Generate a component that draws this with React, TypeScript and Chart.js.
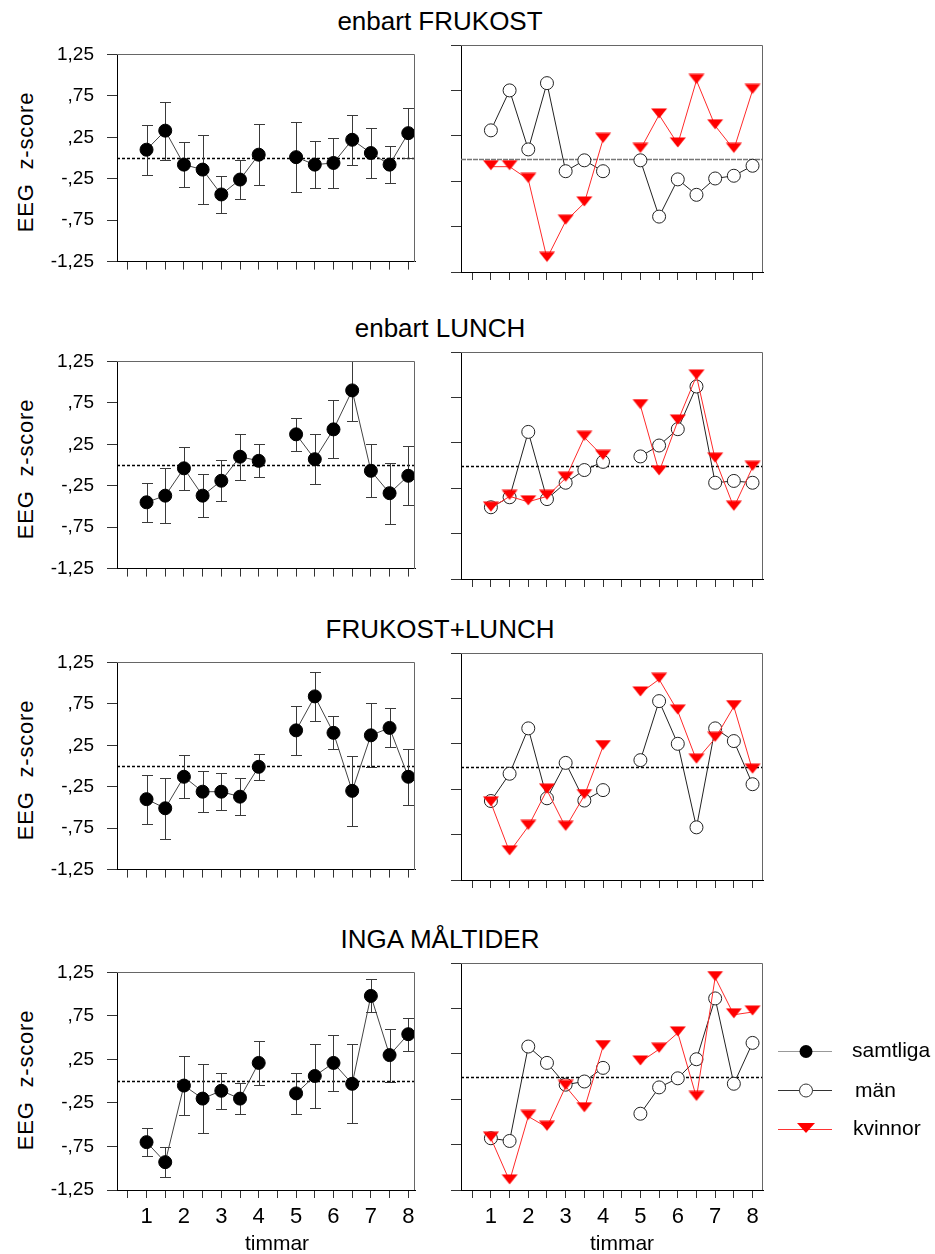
import React, { useEffect, useRef } from "react";
import { Chart, registerables } from "chart.js";

Chart.register(...registerables);

const FONT = "'Liberation Sans', Arial, Helvetica, sans-serif";

// x values (hours); 4.5 has no measurement -> null breaks the line
const hours = [1, 1.5, 2, 2.5, 3, 3.5, 4, 4.5, 5, 5.5, 6, 6.5, 7, 7.5, 8];
const xTickValues = [0.5, 1, 1.5, 2, 2.5, 3, 3.5, 4, 4.5, 5, 5.5, 6, 6.5, 7, 7.5, 8];
const xTickLabels = ["", "1", "", "2", "", "3", "", "4", "", "5", "", "6", "", "7", "", "8"];
const yTickValues = [-1.25, -0.75, -0.25, 0.25, 0.75, 1.25];
const yTickLabels = ["-1,25", "-,75", "-,25", ",25", ",75", "1,25"];

const panelTitles = ["enbart FRUKOST", "enbart LUNCH", "FRUKOST+LUNCH", "INGA MÅLTIDER"];
const yAxisTitle = "EEG  z-score";
const xAxisTitle = "timmar";
const legendLabels = ["samtliga", "män", "kvinnor"];

// enbart FRUKOST
const frukostAll = [0.10, 0.33, -0.08, -0.14, -0.44, -0.26, 0.04, null, 0.01, -0.08, -0.06, 0.22, 0.06, -0.08, 0.30];
const frukostAllErr = [0.30, 0.35, 0.27, 0.42, 0.22, 0.24, 0.37, null, 0.42, 0.28, 0.30, 0.30, 0.30, 0.22, 0.30];
const frukostMen = [0.31, 0.75, 0.10, 0.83, -0.14, -0.02, -0.14, null, -0.02, -0.64, -0.23, -0.40, -0.22, -0.19, -0.08];
const frukostWomen = [-0.09, -0.09, -0.23, -1.10, -0.69, -0.49, 0.21, null, 0.10, 0.48, 0.16, 0.86, 0.36, 0.10, 0.75];

// enbart LUNCH
const lunchAll = [-0.45, -0.37, -0.04, -0.37, -0.19, 0.10, 0.05, null, 0.37, 0.07, 0.43, 0.90, -0.07, -0.34, -0.13];
const lunchAllErr = [0.235, 0.33, 0.26, 0.26, 0.25, 0.28, 0.20, null, 0.20, 0.30, 0.35, 0.37, 0.32, 0.37, 0.355];
const lunchMen = [-0.46, -0.35, 0.37, -0.37, -0.19, -0.05, 0.04, null, 0.10, 0.22, 0.40, 0.87, -0.19, -0.17, -0.19];
const lunchWomen = [-0.47, -0.34, -0.40, -0.34, -0.14, 0.31, 0.10, null, 0.66, -0.07, 0.49, 0.985, 0.07, -0.46, -0.02];

// FRUKOST+LUNCH
const bothAll = [-0.40, -0.51, -0.13, -0.31, -0.31, -0.37, -0.01, null, 0.43, 0.84, 0.40, -0.30, 0.37, 0.46, -0.13];
const bothAllErr = [0.295, 0.37, 0.26, 0.245, 0.22, 0.22, 0.16, null, 0.295, 0.30, 0.20, 0.425, 0.385, 0.235, 0.34];
const bothMen = [-0.38, -0.08, 0.42, -0.35, 0.04, -0.375, -0.26, null, 0.07, 0.72, 0.25, -0.67, 0.42, 0.28, -0.195];
const bothWomen = [-0.40, -0.94, -0.66, -0.26, -0.67, -0.32, 0.22, null, 0.81, 0.96, 0.61, 0.07, 0.31, 0.66, -0.04];

// INGA MÅLTIDER
const noneAll = [-0.70, -0.93, -0.05, -0.20, -0.11, -0.20, 0.21, null, -0.14, 0.06, 0.21, -0.03, 0.98, 0.30, 0.54];
const noneAllErr = [0.16, 0.17, 0.34, 0.40, 0.205, 0.18, 0.25, null, 0.235, 0.37, 0.32, 0.455, 0.19, 0.305, 0.19];
const noneMen = [-0.68, -0.71, 0.33, 0.15, -0.09, -0.055, 0.095, null, -0.41, -0.12, -0.02, 0.19, 0.86, -0.08, 0.37];
const noneWomen = [-0.68, -1.15, -0.44, -0.56, -0.11, -0.355, 0.33, null, 0.16, 0.30, 0.48, -0.23, 1.09, 0.68, 0.71];

const rows = [
  { title: panelTitles[0], all: frukostAll, err: frukostAllErr, men: frukostMen, women: frukostWomen },
  { title: panelTitles[1], all: lunchAll, err: lunchAllErr, men: lunchMen, women: lunchWomen },
  { title: panelTitles[2], all: bothAll, err: bothAllErr, men: bothMen, women: bothWomen },
  { title: panelTitles[3], all: noneAll, err: noneAllErr, men: noneMen, women: noneWomen },
];

const ROW_TOPS = [45, 352, 653, 963];
const PANEL_H = 227;
const PAD_TOP = 15;

function makeTriangle(): HTMLCanvasElement {
  const c = document.createElement("canvas");
  c.width = 18;
  c.height = 14;
  const g = c.getContext("2d")!;
  g.fillStyle = "#ff0000";
  g.beginPath();
  g.moveTo(1, 0.5);
  g.lineTo(17, 0.5);
  g.lineTo(9, 10.5);
  g.closePath();
  g.fill();
  return c;
}

type PanelProps = {
  left: number;
  top: number;
  width: number;
  height: number;
  axisW: number;
  padRight: number;
  bottomH: number;
  xMin: number;
  xMax: number;
  showYLabels: boolean;
  showXLabels: boolean;
  kind: "all" | "split";
  all?: (number | null)[];
  err?: (number | null)[];
  men?: (number | null)[];
  women?: (number | null)[];
  zeroColor: string;
  zeroDash: number[];
  zeroWidth: number;
};

function Panel(p: PanelProps) {
  const ref = useRef<HTMLCanvasElement | null>(null);
  useEffect(() => {
    const canvas = ref.current;
    if (!canvas) return;
    const tri = makeTriangle();
    const toData = (vals: (number | null)[]) => hours.map((h, i) => ({ x: h, y: vals[i] }));
    const datasets: any[] = [];
    if (p.kind === "all") {
      datasets.push({
        label: legendLabels[0],
        data: toData(p.all!),
        borderColor: "#444",
        borderWidth: 1,
        pointRadius: 6.5,
        pointBackgroundColor: "#000",
        pointBorderColor: "#000",
        pointBorderWidth: 1,
        spanGaps: false,
        order: 0,
      });
    } else {
      datasets.push({
        label: legendLabels[2],
        data: toData(p.women!),
        borderColor: "#ff2a2a",
        borderWidth: 1,
        pointStyle: tri,
        pointRadius: 8,
        spanGaps: false,
        order: 0,
      });
      datasets.push({
        label: legendLabels[1],
        data: toData(p.men!),
        borderColor: "#222",
        borderWidth: 1,
        pointRadius: 6.5,
        pointBackgroundColor: "#fff",
        pointBorderColor: "#222",
        pointBorderWidth: 1,
        spanGaps: false,
        order: 1,
      });
    }

    const zeroPlugin = {
      id: "zeroLine",
      beforeDatasetsDraw(chart: any) {
        const { ctx, chartArea: a } = chart;
        const y = Math.round(chart.scales.y.getPixelForValue(0)) + 0.5;
        ctx.save();
        ctx.strokeStyle = p.zeroColor;
        ctx.lineWidth = p.zeroWidth;
        ctx.setLineDash(p.zeroDash);
        ctx.beginPath();
        ctx.moveTo(a.left, y);
        ctx.lineTo(a.right, y);
        ctx.stroke();
        ctx.restore();
      },
    };

    const errorPlugin = {
      id: "errorBars",
      beforeDatasetsDraw(chart: any) {
        if (!p.err) return;
        const { ctx, chartArea: a } = chart;
        const xs = chart.scales.x;
        const ys = chart.scales.y;
        ctx.save();
        ctx.beginPath();
        ctx.rect(a.left, a.top, a.right - a.left, a.bottom - a.top);
        ctx.clip();
        ctx.strokeStyle = "#3a3a3a";
        ctx.lineWidth = 1;
        p.err.forEach((e, i) => {
          const v = p.all![i];
          if (e == null || v == null) return;
          const px = Math.round(xs.getPixelForValue(hours[i])) + 0.5;
          const y1 = Math.round(ys.getPixelForValue(v + e)) + 0.5;
          const y2 = Math.round(ys.getPixelForValue(v - e)) + 0.5;
          ctx.beginPath();
          ctx.moveTo(px, y1);
          ctx.lineTo(px, y2);
          ctx.moveTo(px - 5.5, y1);
          ctx.lineTo(px + 5.5, y1);
          ctx.moveTo(px - 5.5, y2);
          ctx.lineTo(px + 5.5, y2);
          ctx.stroke();
        });
        ctx.restore();
      },
    };

    const framePlugin = {
      id: "frame",
      afterDraw(chart: any) {
        const { ctx, chartArea: a } = chart;
        ctx.save();
        ctx.strokeStyle = "#666";
        ctx.lineWidth = 1;
        ctx.beginPath();
        const t = Math.round(a.top) + 0.5;
        const r = Math.round(a.right) - 0.5;
        ctx.moveTo(Math.round(a.left), t);
        ctx.lineTo(r, t);
        ctx.lineTo(r, Math.round(a.bottom));
        ctx.stroke();
        ctx.restore();
      },
    };

    const chart = new Chart(canvas, {
      type: "line",
      data: { datasets },
      options: {
        animation: false,
        responsive: false,
        maintainAspectRatio: false,
        devicePixelRatio: 1,
        layout: { padding: { top: PAD_TOP, right: p.padRight, left: 0, bottom: 0 } },
        plugins: { legend: { display: false }, tooltip: { enabled: false } },
        events: [],
        scales: {
          x: {
            type: "linear",
            min: p.xMin,
            max: p.xMax,
            afterBuildTicks: (s: any) => {
              s.ticks = xTickValues.map((v) => ({ value: v }));
            },
            afterFit: (s: any) => {
              s.height = p.bottomH;
            },
            grid: { drawOnChartArea: false, drawTicks: true, tickLength: 8, color: "#333", lineWidth: 1 },
            border: { display: true, color: "#000", width: 1 },
            ticks: {
              display: p.showXLabels,
              autoSkip: false,
              maxRotation: 0,
              padding: 6,
              color: "#000",
              font: { family: FONT, size: 22 },
              callback: (_v: any, i: number) => xTickLabels[i],
            },
          },
          y: {
            type: "linear",
            min: -1.25,
            max: 1.25,
            afterBuildTicks: (s: any) => {
              s.ticks = yTickValues.map((v) => ({ value: v }));
            },
            afterFit: (s: any) => {
              s.width = p.axisW;
            },
            grid: { drawOnChartArea: false, drawTicks: true, tickLength: 10, color: "#333", lineWidth: 1 },
            border: { display: true, color: "#000", width: 1 },
            ticks: {
              display: p.showYLabels,
              padding: 13,
              color: "#000",
              font: { family: FONT, size: 19 },
              callback: (_v: any, i: number) => yTickLabels[i],
            },
          },
        },
      } as any,
      plugins: [zeroPlugin, errorPlugin, framePlugin],
    });
    return () => chart.destroy();
  }, []);
  return (
    <canvas
      ref={ref}
      width={p.width}
      height={p.height}
      style={{ position: "absolute", left: p.left, top: p.top, width: p.width, height: p.height }}
    />
  );
}

const textBase: React.CSSProperties = {
  position: "absolute",
  fontFamily: FONT,
  color: "#000",
  whiteSpace: "nowrap",
};

export default function App() {
  return (
    <div style={{ position: "absolute", left: 0, top: 0, width: 935, height: 1254, background: "#fff", overflow: "hidden" }}>
      {rows.map((row, r) => {
        const top = ROW_TOPS[r];
        const last = r === rows.length - 1;
        const bottomH = last ? 60 : 14;
        const h = PAD_TOP + PANEL_H + bottomH;
        return (
          <React.Fragment key={r}>
            <div
              style={{
                ...textBase,
                left: 0,
                width: 880,
                top: top - 24 - 13,
                height: 26,
                lineHeight: "26px",
                fontSize: 26,
                textAlign: "center",
              }}
            >
              {row.title}
            </div>
            <div
              style={{
                ...textBase,
                left: 26 - 100,
                width: 200,
                top: top + PANEL_H / 2 + 3 - 13,
                height: 26,
                lineHeight: "26px",
                fontSize: 22,
                letterSpacing: 0.8,
                textAlign: "center",
                transform: "rotate(-90deg)",
                whiteSpace: "pre",
              }}
            >
              {yAxisTitle}
            </div>
            <Panel
              left={0}
              top={top - PAD_TOP}
              width={425}
              height={h}
              axisW={117}
              padRight={10}
              bottomH={bottomH}
              xMin={0.21}
              xMax={8.18}
              showYLabels={true}
              showXLabels={last}
              kind="all"
              all={row.all}
              err={row.err}
              zeroColor="#000"
              zeroDash={[3, 2]}
              zeroWidth={1.6}
            />
            <Panel
              left={445}
              top={top - PAD_TOP}
              width={330}
              height={h}
              axisW={16}
              padRight={12}
              bottomH={bottomH}
              xMin={0.2}
              xMax={8.28}
              showYLabels={false}
              showXLabels={last}
              kind="split"
              men={row.men}
              women={row.women}
              zeroColor={r === 0 ? "#777" : "#000"}
              zeroDash={r === 0 ? [5, 1] : [3, 2]}
              zeroWidth={r === 0 ? 1.3 : 1.6}
            />
          </React.Fragment>
        );
      })}
      <div style={{ ...textBase, left: 277 - 60, width: 120, top: 1231, height: 24, lineHeight: "24px", fontSize: 21, textAlign: "center" }}>
        {xAxisTitle}
      </div>
      <div style={{ ...textBase, left: 622 - 60, width: 120, top: 1231, height: 24, lineHeight: "24px", fontSize: 21, textAlign: "center" }}>
        {xAxisTitle}
      </div>
      <svg style={{ position: "absolute", left: 770, top: 1035 }} width={70} height={105}>
        <line x1={8} y1={16.5} x2={62} y2={16.5} stroke="#999" strokeWidth={1} />
        <circle cx={36} cy={16.5} r={6.5} fill="#000" />
        <line x1={8} y1={55.5} x2={62} y2={55.5} stroke="#333" strokeWidth={1} />
        <circle cx={36} cy={55.5} r={6.5} fill="#fff" stroke="#333" strokeWidth={1} />
        <line x1={8} y1={94.5} x2={62} y2={94.5} stroke="#ff3333" strokeWidth={1} />
        <polygon points="27,88 45,88 36,98" fill="#ff0000" />
      </svg>
      <div style={{ ...textBase, left: 852, top: 1038, height: 24, lineHeight: "24px", fontSize: 21 }}>{legendLabels[0]}</div>
      <div style={{ ...textBase, left: 855, top: 1078, height: 24, lineHeight: "24px", fontSize: 21 }}>{legendLabels[1]}</div>
      <div style={{ ...textBase, left: 853, top: 1116, height: 24, lineHeight: "24px", fontSize: 21 }}>{legendLabels[2]}</div>
    </div>
  );
}
